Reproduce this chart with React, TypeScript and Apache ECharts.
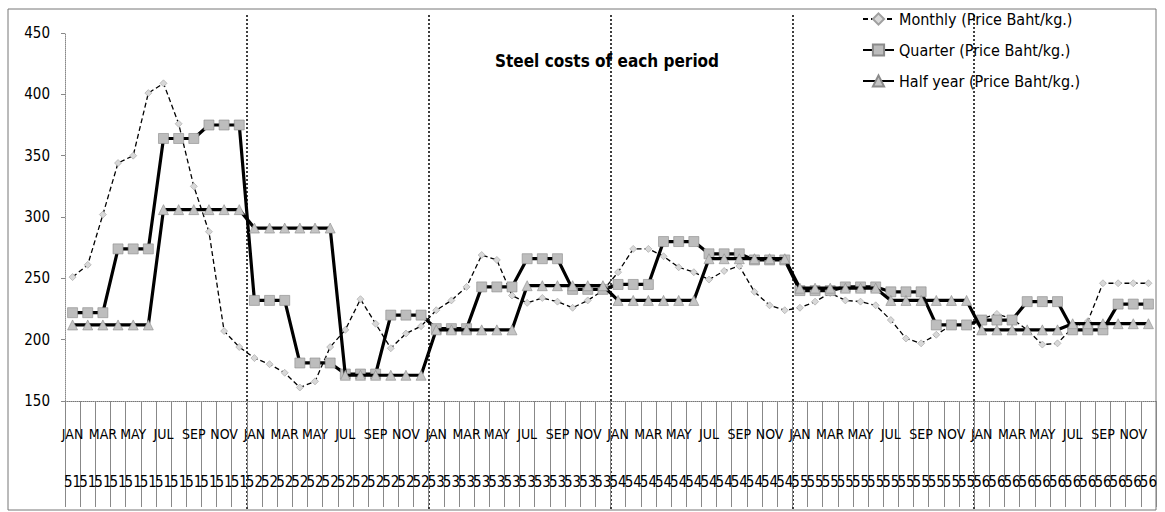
import React, { useEffect, useRef } from "react";
import * as echarts from "echarts";

const monthNames = ["JAN", "FEB", "MAR", "APR", "MAY", "JUN", "JUL", "AUG", "SEP", "OCT", "NOV", "DEC"];
const yearNames = ["51", "52", "53", "54", "55", "56"];

const seriesNames = [
  "Monthly (Price Baht/kg.)",
  "Quarter (Price Baht/kg.)",
  "Half year (Price Baht/kg.)",
];
const titleText = "Steel costs of each period";

// Monthly price, Baht/kg
const monthly = [
  251, 261, 302, 344, 350, 401, 409, 376, 325, 288, 207, 194,
  185, 180, 173, 161, 166, 194, 208, 233, 213, 193, 205, 211,
  224, 232, 243, 269, 265, 236, 230, 234, 231, 226, 232, 240,
  255, 274, 274, 268, 259, 255, 249, 256, 260, 239, 228, 224,
  226, 231, 238, 232, 231, 228, 216, 201, 197, 204, 212, 212,
  217, 221, 217, 208, 196, 197, 210, 215, 246, 246, 246, 246,
];

// Quarterly average, shown on every month of the quarter
const quarter = [
  222, 222, 222, 274, 274, 274, 364, 364, 364, 375, 375, 375,
  232, 232, 232, 181, 181, 181, 172, 172, 172, 220, 220, 220,
  209, 209, 209, 243, 243, 243, 266, 266, 266, 241, 241, 241,
  245, 245, 245, 280, 280, 280, 270, 270, 270, 265, 265, 265,
  240, 240, 240, 243, 243, 243, 239, 239, 239, 212, 212, 212,
  216, 216, 216, 231, 231, 231, 208, 208, 208, 229, 229, 229,
];

// Half-year average, shown on every month of the half year
const halfYear = [
  212, 212, 212, 212, 212, 212, 306, 306, 306, 306, 306, 306,
  291, 291, 291, 291, 291, 291, 171, 171, 171, 171, 171, 171,
  208, 208, 208, 208, 208, 208, 244, 244, 244, 244, 244, 244,
  232, 232, 232, 232, 232, 232, 266, 266, 266, 266, 266, 266,
  242, 242, 242, 242, 242, 242, 232, 232, 232, 232, 232, 232,
  208, 208, 208, 208, 208, 208, 213, 213, 213, 213, 213, 213,
];

const yMin = 150;
const yMax = 450;
const yStep = 50;

const FONT = "'Liberation Sans Narrow', 'DejaVu Sans Condensed', 'Liberation Sans', sans-serif";

export default function App() {
  const ref = useRef<HTMLDivElement>(null);

  useEffect(() => {
    const chart = echarts.init(ref.current!, null, { renderer: "svg" });
    const categories = yearNames.flatMap((y) => monthNames.map((m) => `${m} ${y}`));
    const monthCount = categories.length;

    chart.setOption({
      animation: false,
      backgroundColor: "#ffffff",
      textStyle: { fontFamily: FONT },
      title: {
        text: titleText,
        left: 490,
        top: 47,
        textStyle: { fontFamily: FONT, fontSize: 17, fontWeight: "bold", color: "#000" },
      },
      legend: {
        orient: "vertical",
        left: 862,
        top: 11,
        padding: 0,
        itemWidth: 31,
        itemHeight: 14,
        itemGap: 15,
        data: seriesNames,
        textStyle: { fontFamily: FONT, fontSize: 16, color: "#000", lineHeight: 14 },
      },
      graphic: [
        {
          type: "rect",
          shape: { x: 8, y: 9, width: 1148, height: 501 },
          style: { fill: "none", stroke: "#777", lineWidth: 1 },
          silent: true,
          z: 0,
        },
      ],
      grid: [
        { left: 65, right: 9, top: 33, bottom: 111 },
        { left: 65, right: 9, top: 15, bottom: 2 },
      ],
      xAxis: [
        {
          type: "category",
          gridIndex: 0,
          data: categories,
          boundaryGap: true,
          axisLine: { show: true, lineStyle: { color: "#777", width: 1, type: "dotted" } },
          axisTick: { show: true, interval: 0, length: 106, lineStyle: { color: "#888", width: 1 } },
          axisLabel: {
            interval: 1,
            margin: 26,
            fontFamily: FONT,
            fontSize: 14,
            color: "#000",
            formatter: (v: string) => v.split(" ")[0],
          },
          splitLine: { show: false },
        },
        {
          type: "category",
          gridIndex: 0,
          position: "bottom",
          data: categories,
          boundaryGap: true,
          axisLine: { show: false },
          axisTick: { show: false },
          axisLabel: {
            interval: 0,
            margin: 73,
            fontFamily: FONT,
            fontSize: 15,
            color: "#000",
            formatter: (v: string) => v.split(" ")[1],
          },
          splitLine: { show: false },
        },
        {
          type: "value",
          gridIndex: 1,
          min: 0,
          max: monthCount,
          interval: 12,
          axisLine: { show: false },
          axisTick: { show: false },
          axisLabel: { show: false },
          splitLine: {
            show: true,
            showMinLine: false,
            showMaxLine: false,
            lineStyle: { color: "#000", width: 1.5, type: [2, 2] },
          },
        },
      ],
      yAxis: [
        {
          type: "value",
          gridIndex: 0,
          min: yMin,
          max: yMax,
          interval: yStep,
          axisLine: { show: true, lineStyle: { color: "#888", width: 1, type: "dotted" } },
          axisTick: { show: true, length: 4, lineStyle: { color: "#888" } },
          axisLabel: { fontFamily: FONT, fontSize: 15, color: "#000", margin: 15 },
          splitLine: { show: false },
        },
        {
          type: "value",
          gridIndex: 1,
          min: 0,
          max: 1,
          show: false,
          splitLine: { show: false },
        },
      ],
      series: [
        {
          name: seriesNames[0],
          type: "line",
          xAxisIndex: 0,
          yAxisIndex: 0,
          data: monthly,
          showAllSymbol: true,
          symbol: "diamond",
          symbolSize: 7,
          lineStyle: { color: "#000", width: 1.3, type: [5, 3] },
          itemStyle: { color: "#d8d8d8", borderColor: "#a0a0a0", borderWidth: 0.6 },
          z: 3,
        },
        {
          name: seriesNames[1],
          type: "line",
          xAxisIndex: 0,
          yAxisIndex: 0,
          data: quarter,
          showAllSymbol: true,
          symbol: "rect",
          symbolSize: 10,
          lineStyle: { color: "#000", width: 3.2 },
          itemStyle: { color: "#bdbdbd", borderColor: "#8a8a8a", borderWidth: 0.6 },
          z: 4,
        },
        {
          name: seriesNames[2],
          type: "line",
          xAxisIndex: 0,
          yAxisIndex: 0,
          data: halfYear,
          showAllSymbol: true,
          symbol: "triangle",
          symbolSize: 10,
          lineStyle: { color: "#000", width: 3.2 },
          itemStyle: { color: "#c4c4c4", borderColor: "#8a8a8a", borderWidth: 0.6 },
          z: 5,
        },
      ],
    });

    return () => chart.dispose();
  }, []);

  return (
    <div
      ref={ref}
      style={{ position: "fixed", left: 0, top: 0, width: 1165, height: 512, background: "#fff" }}
    />
  );
}
